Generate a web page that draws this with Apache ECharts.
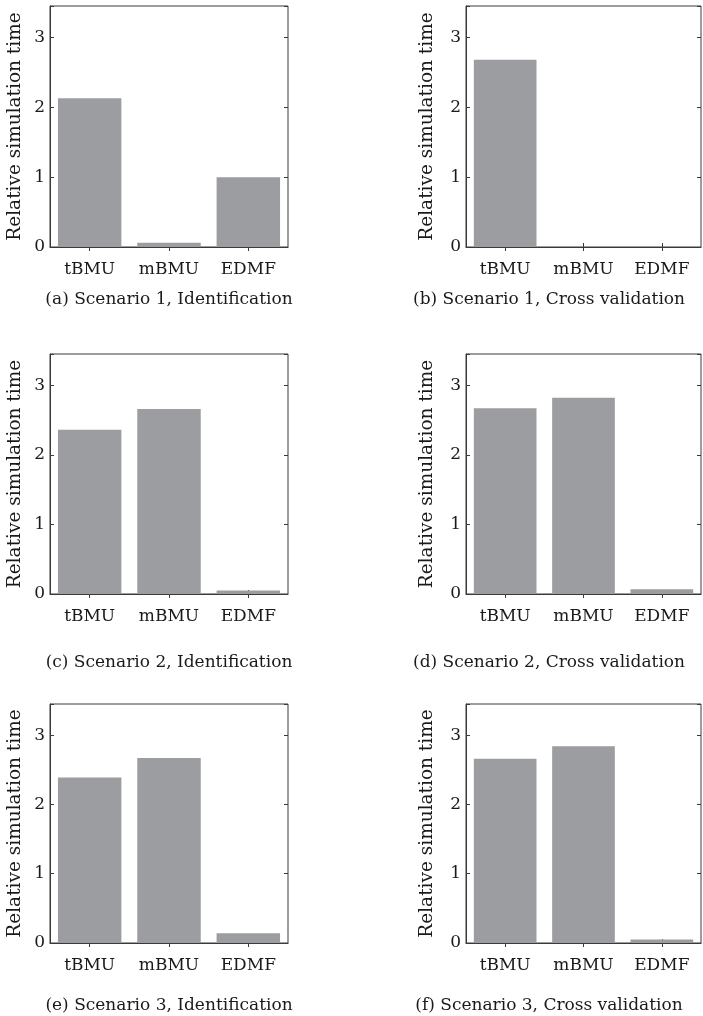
<!DOCTYPE html>
<html>
<head>
<meta charset="utf-8">
<script src="https://cdn.jsdelivr.net/npm/echarts@6/dist/echarts.min.js"></script>
<style>
html,body{margin:0;padding:0;background:#fff;}
#chart{width:703px;height:1016px;}
</style>
</head>
<body>
<div id="chart"></div>
<script>
const categories = ['tBMU', 'mBMU', 'EDMF'];
const scenario1Identification = [2.13, 0.06, 1.0];
const scenario1CrossValidation = [2.68, 0, 0];
const scenario2Identification = [2.36, 2.66, 0.05];
const scenario2CrossValidation = [2.67, 2.82, 0.07];
const scenario3Identification = [2.39, 2.67, 0.14];
const scenario3CrossValidation = [2.66, 2.84, 0.05];
const captions = [
  '(a) Scenario 1, Identification',
  '(b) Scenario 1, Cross validation',
  '(c) Scenario 2, Identification',
  '(d) Scenario 2, Cross validation',
  '(e) Scenario 3, Identification',
  '(f) Scenario 3, Cross validation'
];
const yAxisName = 'Relative simulation time';
const yMax = 3.45;

const panelValues = [
  scenario1Identification, scenario1CrossValidation,
  scenario2Identification, scenario2CrossValidation,
  scenario3Identification, scenario3CrossValidation
];

const FONT = 'DejaVu Serif';
const AX = '#3a3a3a';
const BAR = '#9c9da1';
const rowsTop = [6, 354, 704];
const rowsH = [241, 240, 239];
const captionY = [286, 649, 992];
const colsLeft = [50, 466];
const colsW = [238, 235];
const nameGaps = [25, 29];
const captionCenter = [164, 544];

const grids = [], xAxes = [], yAxes = [], series = [], titles = [];
panelValues.forEach((vals, i) => {
  const r = Math.floor(i / 2), c = i % 2;
  grids.push({left: colsLeft[c], top: rowsTop[r], width: colsW[c], height: rowsH[r],
    show: true, borderColor: AX, borderWidth: 1, backgroundColor: 'transparent'});
  const tickStyle = {show: true, inside: true, length: 4, alignWithLabel: true, interval: 0, lineStyle: {color: AX, width: 1}};
  xAxes.push({type: 'category', gridIndex: i, data: categories, position: 'bottom',
    axisLine: {show: true, lineStyle: {color: AX, width: 1.2}},
    axisTick: tickStyle,
    axisLabel: {fontFamily: FONT, fontSize: 17, color: '#1a1a1a', margin: 14, interval: 0}});
  xAxes.push({type: 'category', gridIndex: i, data: categories, position: 'top',
    axisLine: {show: false}, axisTick: tickStyle, axisLabel: {show: false}});
  const yTick = {show: true, inside: true, length: 4, lineStyle: {color: AX, width: 1}};
  yAxes.push({type: 'value', gridIndex: i, min: 0, max: yMax, interval: 1, position: 'left',
    splitLine: {show: false},
    axisLine: {show: true, lineStyle: {color: AX, width: 1}},
    axisTick: yTick,
    axisLabel: {fontFamily: FONT, fontSize: 17, color: '#1a1a1a', margin: 5,
      formatter: v => (Number.isInteger(v) ? String(v) : '')},
    name: yAxisName, nameLocation: 'middle', nameGap: nameGaps[c],
    nameTextStyle: {fontFamily: FONT, fontSize: 18.5, color: '#1a1a1a'}});
  yAxes.push({type: 'value', gridIndex: i, min: 0, max: yMax, interval: 1, position: 'right',
    splitLine: {show: false}, axisLine: {show: false}, axisTick: yTick, axisLabel: {show: false}});
  series.push({type: 'bar', xAxisIndex: 2 * i, yAxisIndex: 2 * i, data: vals,
    barCategoryGap: '20%', itemStyle: {color: BAR}, silent: true, animation: false});
  titles.push({text: captions[i], left: captionCenter[c], top: captionY[r], textAlign: 'center',
    textStyle: {fontFamily: FONT, fontSize: 17, fontWeight: 'normal', color: '#1a1a1a'}});
});

const chart = echarts.init(document.getElementById('chart'), null, {renderer: 'canvas'});
chart.setOption({animation: false, title: titles, grid: grids, xAxis: xAxes, yAxis: yAxes, series: series});
</script>
</body>
</html>
